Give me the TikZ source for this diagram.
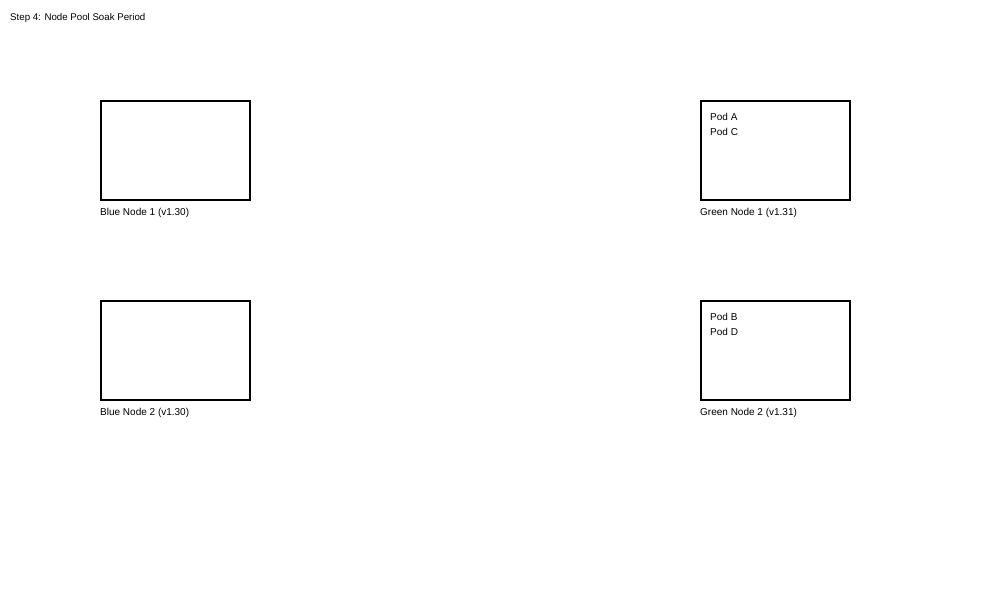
\documentclass[tikz,border=0pt]{standalone}
\usepackage{fontspec}
\setmainfont{Liberation Sans}
\usepackage{tikz}
\usetikzlibrary{positioning}

\tikzset{
  nodeBox/.style={draw=black, line width=1.5pt, minimum width=149pt, minimum height=99pt, inner sep=0pt},
  labelText/.style={anchor=base west, inner sep=0pt, font=\fontsize{10}{12}\selectfont},
}

\begin{document}
\begin{tikzpicture}[x=1pt, y=-1pt]
  \useasboundingbox (0,0) rectangle (1000,600);
  \node[labelText, font=\fontsize{9.7}{12}\selectfont] (title) at (10,20) {Step 4: Node Pool Soak Period};

  % blue pool (old version)
  \node[nodeBox] (blue1) at (175.5,150.5) {};
  \node[nodeBox] (blue2) at (175.5,350.5) {};
  \node[labelText] (blue1lbl) at (100,215) {Blue Node 1 (v1.30)};
  \node[labelText] (blue2lbl) at (100,415) {Blue Node 2 (v1.30)};

  % green pool (new version)
  \node[nodeBox] (green1) at (775.5,150.5) {};
  \node[nodeBox] (green2) at (775.5,350.5) {};
  \node[labelText] (green1lbl) at (700,215) {Green Node 1 (v1.31)};
  \node[labelText] (green2lbl) at (700,415) {Green Node 2 (v1.31)};

  % pods on the green nodes
  \node[labelText] (podA) at (710,120) {Pod A};
  \node[labelText] (podC) at (710,135) {Pod C};
  \node[labelText] (podB) at (710,320) {Pod B};
  \node[labelText] (podD) at (710,335) {Pod D};
\end{tikzpicture}
\end{document}
